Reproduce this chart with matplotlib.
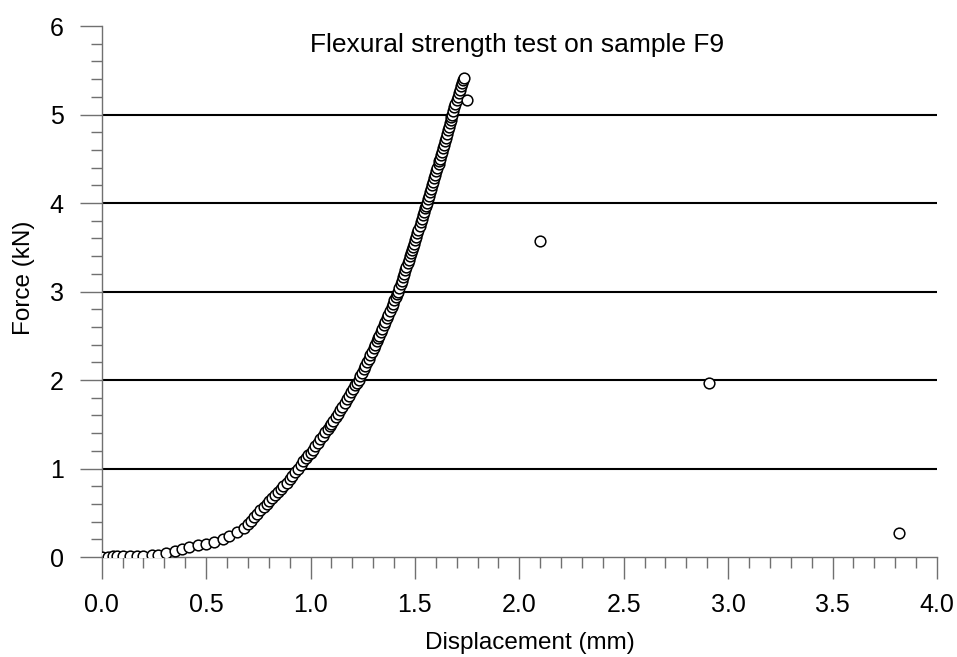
# flexural strength test plot for sample F9
import matplotlib
matplotlib.use("Agg")
import matplotlib.pyplot as plt
from matplotlib.ticker import MultipleLocator

plt.rcParams['font.family'] = ['Liberation Sans', 'DejaVu Sans']

# data (displacement in mm, force in kN)
displacement = [
    0.00, 0.03, 0.055, 0.075, 0.10, 0.135, 0.17, 0.20, 0.24, 0.27, 0.31, 0.35,
    0.385, 0.42, 0.46, 0.50, 0.54, 0.58, 0.61, 0.65,
    0.68, 0.70, 0.715, 0.73, 0.745, 0.76, 0.775, 0.79,
    0.80, 0.815, 0.83, 0.845, 0.86, 0.87, 0.885, 0.90, 0.91, 0.925, 0.94,
    0.952, 0.965, 0.978, 0.99, 1.00, 1.01,
    1.022, 1.034, 1.046, 1.058, 1.07, 1.082, 1.092, 1.10,
    1.11, 1.121, 1.131, 1.142, 1.152, 1.163, 1.173, 1.184, 1.194, 1.204, 1.215, 1.223, 1.23,
    1.238, 1.246, 1.254, 1.262, 1.27, 1.278, 1.286, 1.294, 1.302, 1.31, 1.318, 1.324, 1.33,
    1.337, 1.344, 1.352, 1.359, 1.366, 1.373, 1.38, 1.388, 1.395, 1.402, 1.409, 1.415, 1.42,
    1.426, 1.431, 1.437, 1.442, 1.448, 1.454, 1.459, 1.465, 1.47, 1.476, 1.482, 1.486, 1.49,
    1.495, 1.501, 1.506, 1.512, 1.517, 1.523, 1.528, 1.534, 1.539, 1.545, 1.55, 1.554, 1.558,
    1.563, 1.568, 1.573, 1.578, 1.583, 1.588, 1.593, 1.598, 1.603, 1.608, 1.613, 1.617, 1.62,
    1.625, 1.629, 1.634, 1.639, 1.643, 1.648, 1.653, 1.657, 1.662, 1.666, 1.671, 1.675, 1.678,
    1.683, 1.689, 1.694, 1.70, 1.705, 1.711, 1.716, 1.722, 1.727, 1.731, 1.735,
    1.75, 2.10, 2.91, 3.82,
]
force = [
    0.005, 0.005, 0.008, 0.01, 0.01, 0.012, 0.015, 0.015, 0.018, 0.02, 0.05, 0.07,
    0.09, 0.11, 0.13, 0.15, 0.17, 0.20, 0.24, 0.28,
    0.33, 0.37, 0.41, 0.45, 0.49, 0.53, 0.565, 0.60,
    0.63, 0.67, 0.70, 0.74, 0.77, 0.80, 0.84, 0.88, 0.92, 0.96, 1.00,
    1.04, 1.08, 1.12, 1.15, 1.18, 1.21,
    1.25, 1.29, 1.33, 1.37, 1.41, 1.45, 1.48, 1.50,
    1.54, 1.58, 1.62, 1.66, 1.70, 1.74, 1.78, 1.82, 1.86, 1.90, 1.94, 1.97, 2.00,
    2.04, 2.08, 2.12, 2.16, 2.20, 2.24, 2.28, 2.32, 2.36, 2.40, 2.44, 2.47, 2.50,
    2.54, 2.58, 2.62, 2.66, 2.70, 2.74, 2.78, 2.82, 2.86, 2.90, 2.94, 2.97, 3.00,
    3.04, 3.08, 3.12, 3.16, 3.20, 3.24, 3.28, 3.32, 3.36, 3.40, 3.44, 3.47, 3.50,
    3.54, 3.58, 3.62, 3.66, 3.70, 3.74, 3.78, 3.82, 3.86, 3.90, 3.94, 3.97, 4.00,
    4.04, 4.08, 4.12, 4.16, 4.20, 4.24, 4.28, 4.32, 4.36, 4.40, 4.44, 4.47, 4.50,
    4.54, 4.58, 4.62, 4.66, 4.70, 4.74, 4.78, 4.82, 4.86, 4.90, 4.94, 4.97, 5.00,
    5.04, 5.08, 5.12, 5.16, 5.20, 5.24, 5.28, 5.32, 5.36, 5.39, 5.41,
    5.16, 3.57, 1.97, 0.27,
]
grid_levels = [1, 2, 3, 4, 5]

axis_grey = '#707070'

fig = plt.figure(figsize=(9.57, 6.57), dpi=100)
ax = fig.add_axes([0.1063, 0.1522, 0.8727, 0.8082])

# horizontal grid lines
for level in grid_levels:
    ax.axhline(level, color='black', linewidth=1.5, zorder=1)

# measured points
ax.plot(displacement, force, linestyle='none', marker='o', markersize=7.7,
        markerfacecolor='white', markeredgecolor='black', markeredgewidth=1.1,
        zorder=3)

ax.set_xlim(0, 4)
ax.set_ylim(0, 6)
ax.xaxis.set_major_locator(MultipleLocator(0.5))
ax.xaxis.set_minor_locator(MultipleLocator(0.1))
ax.yaxis.set_major_locator(MultipleLocator(1))
ax.yaxis.set_minor_locator(MultipleLocator(0.2))
ax.xaxis.set_major_formatter(plt.FormatStrFormatter('%.1f'))

# spines
ax.spines['top'].set_visible(False)
ax.spines['right'].set_visible(False)
for side in ['left', 'bottom']:
    ax.spines[side].set_color(axis_grey)
    ax.spines[side].set_linewidth(1.0)

ax.tick_params(which='major', direction='out', length=16, width=1.0,
               color=axis_grey, labelsize=18)
ax.tick_params(which='minor', direction='out', length=8, width=1.0,
               color=axis_grey)
ax.tick_params(axis='x', which='major', pad=10)
ax.tick_params(axis='y', which='major', pad=11.5)

# labels and title
ax.set_xlabel('Displacement (mm)', fontsize=17.5)
ax.set_ylabel('Force (kN)', fontsize=17.5)
ax.xaxis.set_label_coords(0.513, -0.141)
ax.yaxis.set_label_coords(-0.080, 0.525)
ax.text(0.4977, 0.951, 'Flexural strength test on sample F9', transform=ax.transAxes,
        ha='center', va='baseline', fontsize=19)

plt.savefig('out.png', dpi=100)
